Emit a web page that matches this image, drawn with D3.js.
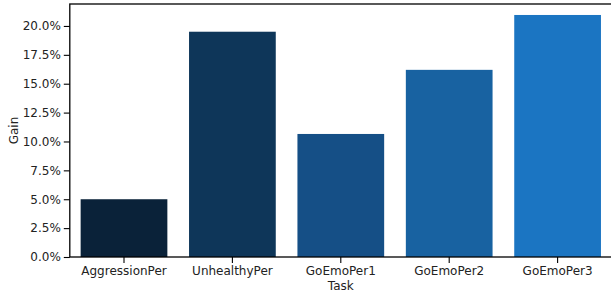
<!DOCTYPE html>
<html><head><meta charset="utf-8">
<script src="https://cdn.jsdelivr.net/npm/d3@7"></script>
<style>body{margin:0;background:#fff}svg{display:block;font-family:"DejaVu Sans",sans-serif}</style>
</head><body><svg id="c" width="611" height="295"></svg>
<script>
const categories = ["AggressionPer","UnhealthyPer","GoEmoPer1","GoEmoPer2","GoEmoPer3"];
const values = [5.0, 19.5, 10.65, 16.2, 20.95];
const colors = ["#0a2239","#0e3659","#154f86","#1862a1","#1b75c2"];
const yTicks = [0,2.5,5,7.5,10,12.5,15,17.5,20];

const svg = d3.select("#c");
const L = 69.8, R = 611.8, T = 4, B = 257;
const x = d3.scaleBand().domain(categories).range([L, R]).paddingInner(0.2).paddingOuter(0.1);
const y = d3.scaleLinear().domain([0, 21.9]).range([B, T]);

svg.selectAll("rect.bar").data(categories).join("rect")
  .attr("class","bar")
  .attr("x", d => x(d)).attr("width", x.bandwidth())
  .attr("y", (d,i) => y(values[i])).attr("height", (d,i) => B - y(values[i]))
  .attr("fill", (d,i) => colors[i]);

const yAxis = svg.append("g").attr("transform", `translate(${L},0)`)
  .call(d3.axisLeft(y).tickValues(yTicks).tickFormat(d => d.toFixed(1) + "%").tickSize(6).tickPadding(3));
const xAxis = svg.append("g").attr("transform", `translate(0,${B})`)
  .call(d3.axisBottom(x).tickSize(6).tickPadding(3));
[yAxis, xAxis].forEach(g => {
  g.select(".domain").remove();
  g.selectAll(".tick line").attr("stroke","#000").attr("stroke-width",1.1);
  g.selectAll("text").attr("font-size", 12).attr("fill","#222").attr("font-family","DejaVu Sans");
});

// spines
svg.append("rect").attr("x", L).attr("y", T).attr("width", R - L).attr("height", B - T)
  .attr("fill","none").attr("stroke","#000").attr("stroke-width",1.3);

svg.append("text").attr("transform", `translate(18,${(T+B)/2}) rotate(-90)`)
  .attr("text-anchor","middle").attr("font-size",12).attr("fill","#222").text("Gain");
svg.append("text").attr("x", (L+R)/2).attr("y", 290)
  .attr("text-anchor","middle").attr("font-size",12).attr("fill","#222").text("Task");
</script></body></html>
